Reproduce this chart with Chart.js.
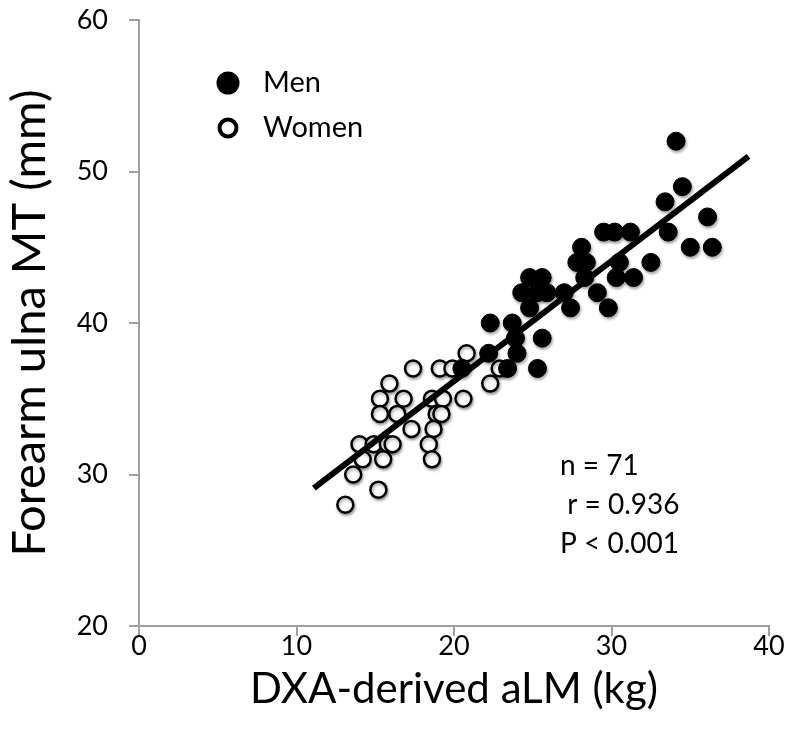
<!DOCTYPE html>
<html>
<head>
<meta charset="utf-8">
<script src="https://cdn.jsdelivr.net/npm/chart.js@4"></script>
<style>
  html, body { margin: 0; padding: 0; background: #fff; }
</style>
</head>
<body>
<canvas id="chart" width="789" height="750"></canvas>
<script>
// DXA-derived aLM (kg) vs forearm ulna MT (mm)
const menX = [34.1, 34.5, 33.4, 36.1, 29.5, 30.2, 31.2, 33.6, 28.1, 35.0, 36.4,
  27.8, 28.4, 30.5, 32.5, 24.8, 25.6, 28.3, 30.3, 31.4, 24.3, 25.3, 25.9, 27.0, 29.1,
  24.8, 27.4, 29.8, 22.3, 23.7, 23.9, 25.6, 22.2, 24.0, 20.5, 23.4, 25.3]
const menY = [52, 49, 48, 47, 46, 46, 46, 46, 45, 45, 45,
  44, 44, 44, 44, 43, 43, 43, 43, 43, 42, 42, 42, 42, 42,
  41, 41, 41, 40, 40, 39, 39, 38, 38, 37, 37, 37]

const womenX = [17.4, 19.1, 19.9, 22.9, 20.8, 15.9, 22.3, 15.3, 16.8, 18.6, 19.3, 20.6,
  15.3, 16.4, 18.9, 19.2, 17.3, 18.7, 14.0, 14.9, 15.8, 16.1, 18.4,
  14.2, 15.5, 18.6, 13.6, 15.2, 13.1]
const womenY = [37, 37, 37, 37, 38, 36, 36, 35, 35, 35, 35, 35,
  34, 34, 34, 34, 33, 33, 32, 32, 32, 32, 32,
  31, 31, 31, 30, 29, 28]

const fitX = [11.1, 38.7]
const fitY = [29.1, 51.0]

const xTicks = [0, 10, 20, 30, 40]
const yTicks = [20, 30, 40, 50, 60]
const notes = ['n = 71', ' r = 0.936', 'P < 0.001']

const FONT = 'Lato, "Open Sans", sans-serif'
const AXIS = '#a0a0a0'

const pts = (xs, ys) => xs.map((x, i) => ({ x: x, y: ys[i] }))

// soft drop shadow under the markers
const shadowPlugin = {
  id: 'shadow',
  beforeDatasetDraw(chart, args) {
    if (args.meta.type === 'line') return
    const ctx = chart.ctx
    ctx.save()
    ctx.shadowColor = 'rgba(0,0,0,0.35)'
    ctx.shadowBlur = 3
    ctx.shadowOffsetX = 1
    ctx.shadowOffsetY = 2
  },
  afterDatasetDraw(chart, args) {
    if (args.meta.type === 'line') return
    chart.ctx.restore()
  },
}

// legend top-left and stats text
const notesPlugin = {
  id: 'notes',
  afterDraw(chart) {
    const ctx = chart.ctx
    ctx.save()
    ctx.fillStyle = '#000'
    ctx.beginPath()
    ctx.arc(228, 83, 11.5, 0, Math.PI * 2)
    ctx.fill()
    ctx.beginPath()
    ctx.arc(228, 128, 8.5, 0, Math.PI * 2)
    ctx.lineWidth = 4
    ctx.strokeStyle = '#000'
    ctx.stroke()

    ctx.font = '29px ' + FONT
    ctx.textBaseline = 'middle'
    ctx.textAlign = 'left'
    ctx.fillText('Men', 263, 83)
    ctx.fillText('Women', 263, 128)

    ctx.font = '28px ' + FONT
    notes.forEach((t, i) => ctx.fillText(t, 560, 466 + i * 39))
    ctx.restore()
  },
}

new Chart(document.getElementById('chart'), {
  type: 'scatter',
  data: {
    datasets: [
      {
        type: 'line',
        data: pts(fitX, fitY),
        borderColor: '#000',
        borderWidth: 6,
        pointRadius: 0,
        fill: false,
        order: 0,
      },
      {
        label: 'Men',
        data: pts(menX, menY),
        backgroundColor: '#000',
        borderColor: '#000',
        borderWidth: 1,
        pointRadius: 9,
        order: 1,
      },
      {
        label: 'Women',
        data: pts(womenX, womenY),
        backgroundColor: '#fff',
        borderColor: '#000',
        borderWidth: 2.5,
        pointRadius: 8,
        order: 2,
      },
    ],
  },
  options: {
    responsive: false,
    animation: false,
    layout: { padding: { top: 20, right: 20, left: 0, bottom: 0 } },
    plugins: {
      legend: { display: false },
      tooltip: { enabled: false },
    },
    scales: {
      x: {
        type: 'linear',
        min: 0,
        max: 40,
        afterBuildTicks: s => { s.ticks = xTicks.map(v => ({ value: v })) },
        afterFit: s => { s.height = 124 },
        border: { color: AXIS, width: 2 },
        grid: { drawOnChartArea: false, drawTicks: true, tickLength: 10, color: AXIS, lineWidth: 2 },
        ticks: { color: '#000', padding: -6, font: { family: FONT, size: 27 } },
        title: {
          display: true,
          text: 'DXA-derived aLM (kg)',
          color: '#000',
          font: { family: FONT, size: 42 },
          padding: { top: 0, bottom: 35 },
        },
      },
      y: {
        type: 'linear',
        min: 20,
        max: 60,
        afterBuildTicks: s => { s.ticks = yTicks.map(v => ({ value: v })) },
        afterFit: s => { s.width = 139; s.paddingTop = 0; s.paddingBottom = 0 },
        border: { color: AXIS, width: 2 },
        grid: { drawOnChartArea: false, drawTicks: true, tickLength: 10, color: AXIS, lineWidth: 2 },
        ticks: { color: '#000', padding: 21, font: { family: FONT, size: 27 } },
        title: {
          display: true,
          text: 'Forearm ulna MT (mm)',
          color: '#000',
          font: { family: FONT, size: 47 },
          padding: { top: 2, bottom: 0 },
        },
      },
    },
  },
  plugins: [shadowPlugin, notesPlugin],
})
</script>
</body>
</html>
